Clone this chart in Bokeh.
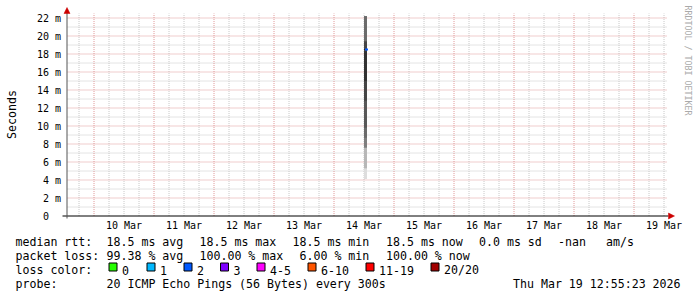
import math
from datetime import datetime
from bokeh.plotting import figure
from bokeh.models import Range1d
from bokeh.core.properties import value
from bokeh.embed import file_html
from bokeh.resources import INLINE

# ---------------- data ----------------
REF = datetime(2026, 3, 9)
view_start = datetime(2026, 3, 9, 13, 24)
view_end = datetime(2026, 3, 19, 13, 24)

day_labels = ["10 Mar", "11 Mar", "12 Mar", "13 Mar", "14 Mar",
              "15 Mar", "16 Mar", "17 Mar", "18 Mar", "19 Mar"]
day_days = [10, 11, 12, 13, 14, 15, 16, 17, 18, 19]

y_major = [0, 2, 4, 6, 8, 10, 12, 14, 16, 18, 20, 22]
y_labels = ["0  ", "2 m", "4 m", "6 m", "8 m", "10 m", "12 m",
            "14 m", "16 m", "18 m", "20 m", "22 m"]
y_minor = [1, 3, 5, 7, 9, 11, 13, 15, 17, 19, 21]

# one smoke sample (20 sorted pings, ms)
sample_start = datetime(2026, 3, 14, 12, 0)
sample_end = datetime(2026, 3, 14, 13, 12)
pings_ms = [4.1, 5.3, 5.3, 7.6, 7.6, 7.6, 8.7, 9.8, 12.8, 15.0,
            18.3, 19.4, 19.4, 22.2, 22.2, 22.2, 22.2, 22.2, 22.2, 22.2]
median_ms = 18.5
median_start = datetime(2026, 3, 14, 12, 24)
median_end = datetime(2026, 3, 14, 13, 36)
median_color = "#0059ff"

loss_labels = ["0", "1", "2", "3", "4-5", "6-10", "11-19", "20/20"]
loss_colors = ["#26ff00", "#00b8ff", "#0059ff", "#7e00ff",
               "#ff00ff", "#ff5500", "#ff0000", "#a10000"]

rtt_texts = ["18.5 ms avg", "18.5 ms max", "18.5 ms min", "18.5 ms now",
             "0.0 ms sd", "-nan", "am/s"]
loss_texts = ["99.38 % avg", "100.00 % max", "6.00 % min", "100.00 % now"]
probe_text = "20 ICMP Echo Pings (56 Bytes) every 300s"
stamp_text = "Thu Mar 19 12:55:23 2026"

# ---------------- geometry helpers ----------------
def hrs(dt):
    return (dt - REF).total_seconds() / 3600.0

W, H = 697, 297
FL, FR, FT = 67, 667, 13         # plotting area (pixels)
ZERO_PY = 215.5                  # pixel centre of value 0
PX_PER_MS = 9.0
X0, X1 = hrs(view_start), hrs(view_end)

def px2x(px):
    return X0 + (px - FL) * (X1 - X0) / (FR - FL)

def py2y(py):
    return (ZERO_PY - py) / PX_PER_MS

FONT = "DejaVu Sans Mono"
NB = "\u00a0"

p = figure(width=W, height=H, output_backend="svg", toolbar_location=None,
           x_range=Range1d(px2x(0), px2x(W)), y_range=Range1d(py2y(H), py2y(0)),
           min_border=0, x_axis_location=None, y_axis_location=None)
p.outline_line_color = None
p.background_fill_color = "white"
p.border_fill_color = "white"
p.grid.visible = False

# ---------------- grid ----------------
midnights = [hrs(datetime(2026, 3, d)) for d in day_days]
six_h = [h for h in range(0, 260, 6) if h % 24 != 0 and X0 < h < X1]
MAJ = "#e09a9a"
MIN = "#c8c8c8"
y_lo, y_hi = py2y(215.5), py2y(13)
x_lo, x_hi = px2x(67), px2x(667)

p.segment(x0=six_h, x1=six_h, y0=[y_lo] * len(six_h), y1=[y_hi] * len(six_h),
          line_color=MIN, line_dash="1 1", line_width=1)
p.segment(x0=[x_lo] * len(y_minor), x1=[x_hi] * len(y_minor), y0=y_minor, y1=y_minor,
          line_color=MIN, line_dash="1 1", line_width=1)
p.segment(x0=midnights, x1=midnights, y0=[y_lo] * len(midnights), y1=[y_hi] * len(midnights),
          line_color=MAJ, line_dash="1 1", line_width=1)
ym = y_major[1:]
p.segment(x0=[x_lo] * len(ym), x1=[x_hi] * len(ym), y0=ym, y1=ym,
          line_color=MAJ, line_dash="1 1", line_width=1)

# ---------------- smoke (smokeping style layers) ----------------
n = len(pings_ms)
half = n // 2
lefts, rights, bots, tops, cols = [], [], [], [], []
for k in range(1, half + 1):
    g = int(190 / half * (half - k)) + 50
    lefts.append(hrs(sample_start))
    rights.append(hrs(sample_end))
    bots.append(pings_ms[k - 1])
    tops.append(pings_ms[n - k])
    cols.append("#%02x%02x%02x" % (g, g, g))
p.quad(left=lefts, right=rights, bottom=bots, top=tops,
       fill_color=cols, line_color=None)

# median
hp = 1.0 / PX_PER_MS
p.quad(left=[hrs(median_start)], right=[hrs(median_end)],
       bottom=[median_ms - hp], top=[median_ms + hp],
       fill_color=median_color, line_color=None)
p.quad(left=[hrs(sample_start)], right=[hrs(median_start)],
       bottom=[median_ms - hp / 2], top=[median_ms + hp / 2],
       fill_color="#222222", line_color=None)

# ---------------- axes ----------------
RED = "#cc0000"
p.segment(x0=[px2x(62)], x1=[px2x(668)], y0=[0], y1=[0], line_color="black", line_width=1)
p.segment(x0=[px2x(66.5)], x1=[px2x(66.5)], y0=[py2y(218)], y1=[py2y(12)],
          line_color="#555555", line_width=1)
p.patches(xs=[[px2x(668), px2x(674), px2x(668)], [px2x(63.5), px2x(66.5), px2x(69.5)]],
          ys=[[py2y(212.5), py2y(215.5), py2y(218.5)], [py2y(13), py2y(7), py2y(13)]],
          fill_color=RED, line_color=RED, line_width=0.5)

# tick labels
p.text(x=[px2x(60.5)] * len(y_major), y=y_major,
       text=[s.replace(" ", NB) for s in y_labels],
       text_align="right", text_baseline="middle", text_font=value(FONT),
       text_font_size=value("10px"), text_color="black")
noons = [hrs(datetime(2026, 3, d, 12)) for d in day_days]
p.text(x=noons, y=[py2y(219)] * len(noons), text=day_labels,
       text_align="center", text_baseline="top", text_font=value(FONT),
       text_font_size=value("10px"), text_color="black")

# side texts
p.text(x=[px2x(11.5)], y=[py2y(114)], text=["Seconds"], angle=math.pi / 2,
       text_align="center", text_baseline="middle", text_font=value(FONT),
       text_font_size=value("11.6px"), text_color="black")
p.text(x=[px2x(687.5)], y=[py2y(60)], text=["RRDTOOL / TOBI OETIKER"], angle=-math.pi / 2,
       text_align="center", text_baseline="middle", text_font=value(FONT),
       text_font_size=value("8.3px"), text_color="#aaaaaa")

# ---------------- legend ----------------
B1, B2, B3, B4 = 241.5, 255.5, 269.5, 283.5
box_lefts = [108, 146, 183, 219.5, 256, 307, 365, 430]
leg_x, leg_y, leg_t = [], [], []
def put(px, base, s):
    leg_x.append(px2x(px))
    leg_y.append(py2y(base))
    leg_t.append(s.replace(" ", NB))

put(15, B1, "median rtt:")
for xpos, s in zip([106, 199, 292, 385.5, 478.5, 557.5, 605.5], rtt_texts):
    put(xpos, B1, s)
put(15, B2, "packet loss:")
for xpos, s in zip([106, 199, 299, 385.5], loss_texts):
    put(xpos, B2, s)
put(15, B3, "loss color:")
for bl, lab in zip(box_lefts, loss_labels):
    put(bl + 13.5, B3, lab)
put(15, B4, "probe:")
put(106, B4, probe_text)
put(512.5, B4, stamp_text)
p.text(x=leg_x, y=leg_y, text=leg_t, text_align="left", text_baseline="alphabetic",
       text_font=value(FONT), text_font_size=value("11.6px"), text_color="black")

p.quad(left=[px2x(b + 0.5) for b in box_lefts], right=[px2x(b + 8.5) for b in box_lefts],
       top=[py2y(262.5)] * len(box_lefts), bottom=[py2y(270.5)] * len(box_lefts),
       fill_color=loss_colors, line_color="black", line_width=1)

open("out.html", "w").write(file_html(p, INLINE))
